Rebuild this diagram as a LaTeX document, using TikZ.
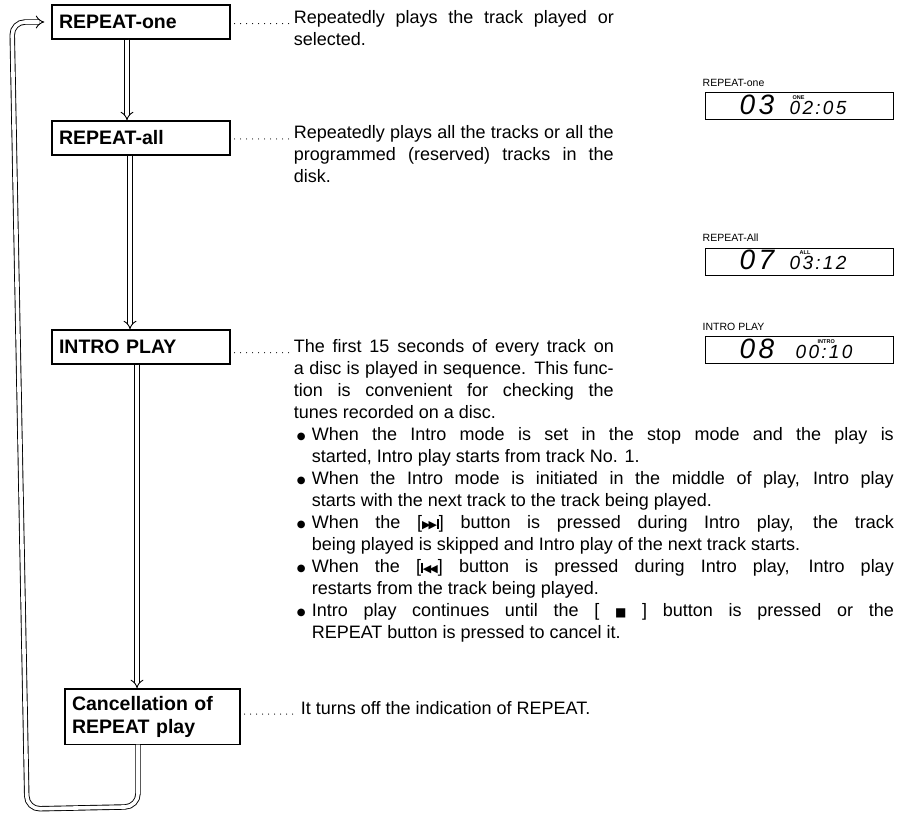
\documentclass[tikz,border=0pt]{standalone}
\usepackage{fontspec}
\setmainfont{Liberation Sans}
\newfontfamily\symfont{DejaVu Sans}
\newfontfamily\lcdfont[LetterSpace=12]{Liberation Sans}
\usetikzlibrary{arrows.meta, positioning}

\newcommand{\nexttrack}{{\symfont\fontsize{11}{11}\selectfont ▶\kern-2pt▶}\kern0.3pt\rule{1.5pt}{10pt}}
\newcommand{\prevtrack}{\rule{1.5pt}{10pt}\kern0.3pt{\symfont\fontsize{11}{11}\selectfont ◀\kern-2pt◀}}
\newcommand{\stopsq}{{\symfont\fontsize{12}{12}\selectfont ■}}
\newcommand{\introitem}{\hangindent=15pt\hangafter=1\noindent
  \makebox[15pt][l]{\raisebox{1.5pt}{\symfont\fontsize{10}{10}\selectfont ●}}}

\tikzset{
  modebox/.style={draw, line width=1.2pt, align=left, inner xsep=7pt, inner ysep=7pt,
    minimum height=34pt, text width=164pt, font=\bfseries\fontsize{19.5}{23}\selectfont},
  desc/.style={anchor=base west, inner sep=0pt, align=justify, text width=320pt,
    font=\fontsize{18}{22}\selectfont},
  leader/.style={line width=1.2pt, dash pattern=on 0pt off 6pt, line cap=round,
    shorten <=4pt, shorten >=3pt},
  dbl/.style={double, double distance=3.6pt, line width=0.9pt},
  lcd/.style={draw, line width=1pt, minimum width=188pt, minimum height=27pt, inner sep=0pt},
  lcdlabel/.style={anchor=base west, inner sep=0pt, font=\fontsize{10.5}{12}\selectfont},
  lcdbig/.style={anchor=base west, inner sep=0pt, font=\lcdfont\itshape\fontsize{28}{28}\selectfont},
  lcdtime/.style={anchor=base west, inner sep=0pt, font=\lcdfont\itshape\fontsize{19}{19}\selectfont},
  lcdtag/.style={anchor=base west, inner sep=0pt, font=\bfseries\fontsize{5.5}{6}\selectfont},
}

\begin{document}
\begin{tikzpicture}[x=1pt, y=-1pt]
  \useasboundingbox (0,0) rectangle (909,814);

  % mode boxes
  \node[modebox] (one) at (141,22) {REPEAT-one};
  \node[modebox] (all) at (141,138) {REPEAT-all};
  \node[modebox] (intro) at (141,347) {INTRO PLAY};
  \node[modebox, text width=161pt] (cancel) at (152.5,716.5) {Cancellation of\\REPEAT play};

  % descriptions
  \node[desc] (d1) at ([xshift=63pt, yshift=5pt]one.base east)
    {Repeatedly plays the track played or\linebreak selected.};
  \node[desc] (d2) at ([xshift=63pt, yshift=6pt]all.base east)
    {Repeatedly plays all the tracks or all the\linebreak
     programmed (reserved) tracks in the\linebreak disk.};
  \node[desc] (d3) at ([xshift=63pt, yshift=1pt]intro.base east)
    {The first 15 seconds of every track on\linebreak
     a disc is played in sequence. This func-\linebreak
     tion is convenient for checking the\linebreak
     tunes recorded on a disc.};
  \node[desc, text width=597pt] (bl) at ([xshift=3pt, yshift=-88pt]d3.base west)
    {\introitem When the Intro mode is set in the stop mode and the play is\linebreak
       started, Intro play starts from track No. 1.\par
     \introitem When the Intro mode is initiated in the middle of play, Intro play\linebreak
       starts with the next track to the track being played.\par
     \introitem When the [\nexttrack] button is pressed during Intro play, the track\linebreak
       being played is skipped and Intro play of the next track starts.\par
     \introitem When the [\prevtrack] button is pressed during Intro play, Intro play\linebreak
       restarts from the track being played.\par
     \introitem Intro play continues until the [ \stopsq\ ] button is pressed or the\linebreak
       REPEAT button is pressed to cancel it.\par};
  \node[desc] (d4) at ([xshift=60pt, yshift=-4pt]cancel.base east)
    {It turns off the indication of REPEAT.};

  % dotted leaders
  \draw[leader] (d1.base west -| one.east) -- (d1.base west);
  \draw[leader] (d2.base west -| all.east) -- (d2.base west);
  \draw[leader] (d3.base west -| intro.east) -- (d3.base west);
  \draw[leader] (d4.base west -| cancel.east) -- (d4.base west);

  % flow arrows
  \draw[dbl, -{Implies}] ([xshift=-14pt]one.south) -- ([xshift=-14pt]all.north);
  \draw[dbl, -{Implies}] ([xshift=-11pt]all.south) -- ([xshift=-11pt]intro.north);
  \draw[dbl, -{Implies}] ([xshift=-4pt]intro.south) -- ([xshift=-15.5pt]cancel.north);
  \draw[dbl, rounded corners=13pt, -{Implies}] ([xshift=-14.5pt]cancel.south) -- ++(0,62)
    -- (27,809) -- (12,22) -- ([xshift=-7pt]one.west);

  % displays
  \node[lcd] (lcdone) at (799,106) {};
  \node[lcdlabel] (lblone) at ([xshift=-2pt, yshift=6pt]lcdone.north west) {REPEAT-one};
  \node[lcdbig] (trkone) at ([xshift=35pt, yshift=-8pt]lcdone.west) {03};
  \node[lcdtime] (timone) at ([xshift=85pt, yshift=-8pt]lcdone.west) {02:05};
  \node[lcdtag] (tagone) at ([xshift=3pt, yshift=15pt]timone.base west) {ONE};

  \node[lcd] (lcdall) at (799,261.5) {};
  \node[lcdlabel] (lblall) at ([xshift=-2pt, yshift=6pt]lcdall.north west) {REPEAT-All};
  \node[lcdbig] (trkall) at ([xshift=35pt, yshift=-8pt]lcdall.west) {07};
  \node[lcdtime] (timall) at ([xshift=85pt, yshift=-8pt]lcdall.west) {03:12};
  \node[lcdtag] (tagall) at ([xshift=10pt, yshift=15pt]timall.base west) {ALL};

  \node[lcd] (lcdintro) at (799,350) {};
  \node[lcdlabel] (lblintro) at ([xshift=-2pt, yshift=6pt]lcdintro.north west) {INTRO PLAY};
  \node[lcdbig] (trkintro) at ([xshift=35pt, yshift=-8pt]lcdintro.west) {08};
  \node[lcdtime] (timintro) at ([xshift=91pt, yshift=-8pt]lcdintro.west) {00:10};
  \node[lcdtag] (tagintro) at ([xshift=22pt, yshift=15pt]timintro.base west) {INTRO};
\end{tikzpicture}
\end{document}
